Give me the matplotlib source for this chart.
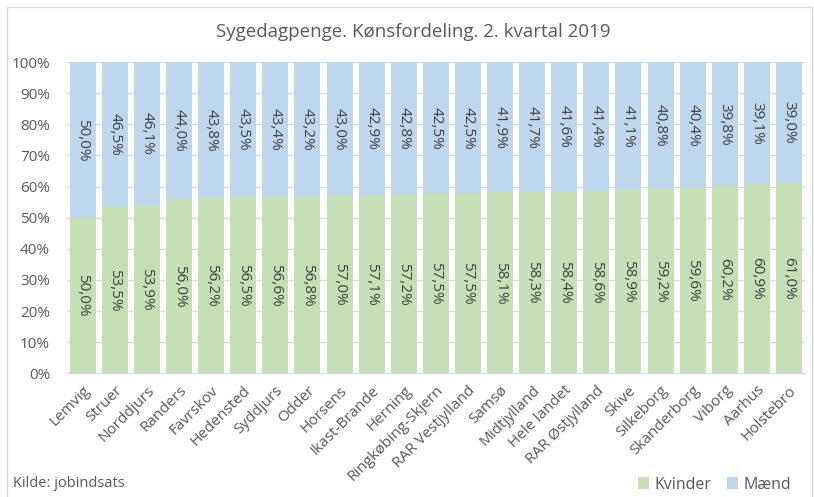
import matplotlib.pyplot as plt
import matplotlib.patches as mpatches
import numpy as np

plt.rcParams['font.family'] = ['Open Sans', 'DejaVu Sans']

kommuner = ['Lemvig', 'Struer', 'Norddjurs', 'Randers', 'Favrskov', 'Hedensted',
            'Syddjurs', 'Odder', 'Horsens', 'Ikast-Brande', 'Herning',
            'Ringkøbing-Skjern', 'RAR Vestjylland', 'Samsø', 'Midtjylland',
            'Hele landet', 'RAR Østjylland', 'Skive', 'Silkeborg', 'Skanderborg',
            'Viborg', 'Aarhus', 'Holstebro']
kvinder = [50.0, 53.5, 53.9, 56.0, 56.2, 56.5, 56.6, 56.8, 57.0, 57.1, 57.2,
           57.5, 57.5, 58.1, 58.3, 58.4, 58.6, 58.9, 59.2, 59.6, 60.2, 60.9, 61.0]
maend = [50.0, 46.5, 46.1, 44.0, 43.8, 43.5, 43.4, 43.2, 43.0, 42.9, 42.8,
         42.5, 42.5, 41.9, 41.7, 41.6, 41.4, 41.1, 40.8, 40.4, 39.8, 39.1, 39.0]

groen = '#c5e0b4'
blaa = '#bdd7ee'
tekst = '#595959'

fig = plt.figure(figsize=(8.14, 4.97), dpi=100)
ax = fig.add_axes([0.082, 0.249, 0.907, 0.626])

x = np.arange(len(kommuner))
ax.bar(x, kvinder, width=0.81, color=groen, label='Kvinder', zorder=2)
ax.bar(x, maend, width=0.81, bottom=kvinder, color=blaa, label='Mænd', zorder=2)

# dataetiketter midt i hvert segment
for i in range(len(kommuner)):
    ax.text(x[i], kvinder[i] / 2, f'{kvinder[i]:.1f}%'.replace('.', ','),
            rotation=270, ha='center', va='center', fontsize=11, color='#404040')
    ax.text(x[i], kvinder[i] + maend[i] / 2, f'{maend[i]:.1f}%'.replace('.', ','),
            rotation=270, ha='center', va='center', fontsize=11, color='#404040')

ax.set_xlim(-0.5, len(kommuner) - 0.5)
ax.set_ylim(0, 100)
ax.set_yticks(np.arange(0, 101, 10))
ax.set_yticklabels([f'{v}%' for v in range(0, 101, 10)], fontsize=11, color=tekst)
ax.set_xticks(x)
ax.set_xticklabels(kommuner, rotation=45, ha='right', rotation_mode='anchor',
                   fontsize=11, color=tekst)
ax.tick_params(axis='y', length=0, pad=12)
ax.tick_params(axis='x', length=0, pad=7)
ax.grid(axis='y', color='#d9d9d9', linewidth=1, zorder=0)
for s in ['top', 'right', 'left']:
    ax.spines[s].set_visible(False)
ax.spines['bottom'].set_color('#d9d9d9')

fig.text(0.508, 0.935, 'Sygedagpenge. Kønsfordeling. 2. kvartal 2019',
         ha='center', va='center', fontsize=13.5, color=tekst)
fig.text(0.016, 0.012, 'Kilde: jobindsats', ha='left', va='bottom',
         fontsize=10.5, color=tekst)

ax.legend(loc='lower right', bbox_to_anchor=(1.0, -0.43), ncol=2, frameon=False,
          fontsize=11.5, handlelength=0.7, handleheight=0.7, columnspacing=1.0,
          handletextpad=0.3, labelcolor=tekst)

# ramme om diagramområdet
fig.patches.append(mpatches.Rectangle((0.008, -0.01), 0.99, 0.995,
                                      transform=fig.transFigure, fill=False,
                                      edgecolor='#d9d9d9', linewidth=1))

fig.savefig('out.png', dpi=100)
